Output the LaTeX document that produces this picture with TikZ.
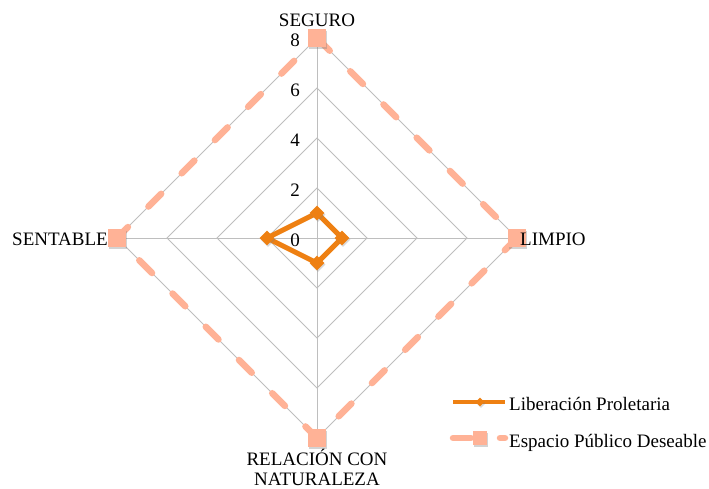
\documentclass[tikz,border=0pt]{standalone}
\usepackage{fontspec}
\setmainfont{Liberation Serif}
\usetikzlibrary{positioning}
\usetikzlibrary{shapes}
\usetikzlibrary{shadows}

\definecolor{lporange}{RGB}{238,128,18}
\definecolor{epsalmon}{RGB}{255,178,150}
\definecolor{gridgray}{RGB}{190,190,190}

\tikzset{
    gridline/.style={draw=gridgray, line width=0.8pt},
    lpline/.style={draw=lporange, line width=5pt, line join=round},
    epline/.style={draw=epsalmon, line width=6.5pt, line cap=round, dash pattern=on 18pt off 29pt},
    lpmark/.style={diamond, fill=lporange, inner sep=0pt, minimum size=15pt,
        drop shadow={opacity=0.3, shadow xshift=1pt, shadow yshift=-1.5pt}},
    epmark/.style={rectangle, fill=epsalmon, inner sep=0pt, minimum size=18pt,
        drop shadow={opacity=0.35, shadow xshift=1pt, shadow yshift=-2pt}},
    chartfont/.style={font=\fontsize{19}{20}\selectfont, inner sep=0pt},
}

\begin{document}
\begin{tikzpicture}[x=25pt, y=25pt]
    \useasboundingbox (-12.68,-10.04) rectangle (15.68,9.52);

    %axis end points
    \coordinate (seguro) at (90:8);
    \coordinate (limpio) at (0:8);
    \coordinate (relacion) at (270:8);
    \coordinate (sentable) at (180:8);

    %draw rings
    \foreach \r in {2,4,6,8}
    \draw[gridline] (0:\r) -- (90:\r) -- (180:\r) -- (270:\r) -- cycle;

    %draw spokes
    \foreach \a in {seguro,limpio,relacion,sentable}
    \draw[gridline] (0,0) -- (\a);

    %draw scale
    \foreach \v in {0,2,...,8}
    \node[chartfont, anchor=base east] (tick\v) at (-0.68,\v-0.36) {\v};

    %draw espacio publico deseable
    \draw[epline] (seguro) -- (limpio) -- (relacion) -- (sentable) -- cycle;

    %draw liberacion proletaria
    \coordinate (lpseguro) at (90:1);
    \coordinate (lplimpio) at (0:1);
    \coordinate (lprelacion) at (270:1);
    \coordinate (lpsentable) at (180:2);
    \draw[lpline] (lpseguro) -- (lplimpio) -- (lprelacion) -- (lpsentable) -- cycle;

    %draw markers
    \foreach \a in {seguro,limpio,relacion,sentable}
    \node[epmark] (ep\a) at (\a) {};
    \foreach \a in {seguro,limpio,relacion,sentable}
    \node[lpmark] (mk\a) at (lp\a) {};

    %draw axis labels
    \node[chartfont, anchor=base] (labseguro) at (0,8.44) {SEGURO};
    \node[chartfont, anchor=base west] (lablimpio) at (8.12,-0.32) {LIMPIO};
    \node[chartfont, anchor=base east] (labsentable) at (-8.36,-0.32) {SENTABLE};
    \node[chartfont, anchor=base, align=center] (labrelacion) at (0,-9.88) {RELACIÓN CON\\NATURALEZA};

    %draw legend
    \coordinate (lpa) at (5.44,-6.56);
    \coordinate (lpb) at (7.52,-6.56);
    \draw[lpline, line width=4pt] (lpa) -- (lpb);
    \node[lpmark, minimum size=9pt] (lpkey) at (6.52,-6.56) {};
    \node[chartfont, anchor=base west] (lptext) at (7.68,-6.88) {Liberación Proletaria};

    \coordinate (epa) at (5.44,-8);
    \coordinate (epb) at (7.52,-8);
    \draw[epline] (epa) -- (epb);
    \node[epmark, minimum size=14pt] (epkey) at (6.52,-8) {};
    \node[chartfont, anchor=base west] (eptext) at (7.68,-8.36) {Espacio Público Deseable};
\end{tikzpicture}
\end{document}
